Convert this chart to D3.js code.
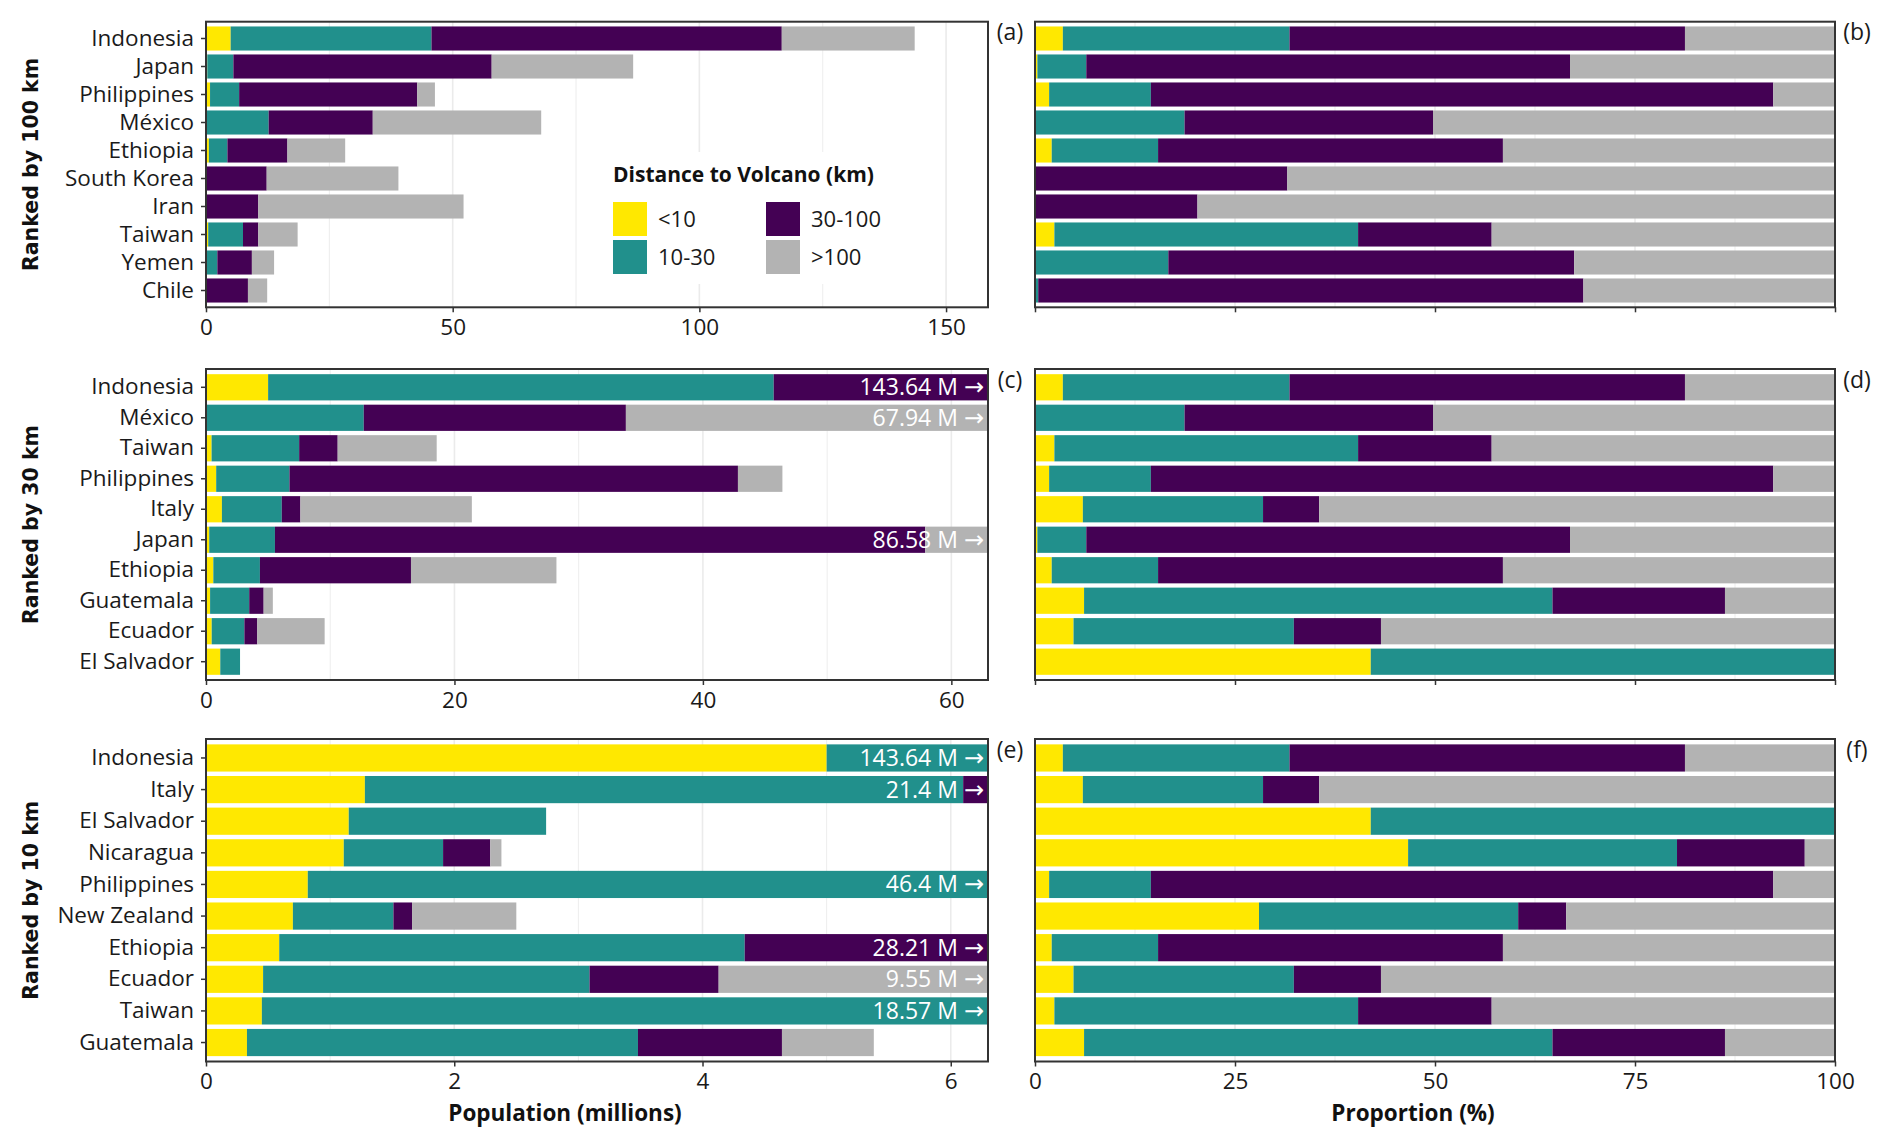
<!DOCTYPE html>
<meta charset="utf-8">
<style>
body { margin: 0; background: #fff; }
svg { display: block; }
.axis text { font-family: "Open Sans", sans-serif; font-size: 22.5px; fill: #1a1a1a; }
.axis line { stroke: #333; stroke-width: 1.5; }
.grid line { stroke: #ebebeb; }
</style>
<svg width="1892" height="1145" id="chart"></svg>
<script src="https://d3js.org/d3.v7.min.js"></script>
<script>
// population (millions) living within each distance band of a volcano
var countries = ["Indonesia", "Japan", "Philippines", "México", "Ethiopia", "South Korea", "Iran", "Taiwan",
                 "Yemen", "Chile", "Italy", "Guatemala", "Ecuador", "El Salvador", "Nicaragua", "New Zealand"];
var lt10    = [5.00,  0.26,  0.82,  0,     0.59,  0,    0,    0.45, 0,   0,    1.28, 0.33, 0.46, 1.15, 1.11, 0.70];
var km10_30 = [40.70, 5.29,  5.90,  12.70, 3.75,  0,    0,    7.05, 2.3, 0.05, 4.82, 3.15, 2.63, 1.59, 0.80, 0.81];
var km30_100= [71.00, 52.35, 36.10, 21.10, 12.16, 12.3, 10.6, 3.10, 7.0, 8.45, 1.50, 1.16, 1.04, 0,    0.38, 0.15];
var gt100   = [26.94, 28.68, 3.58,  34.14, 11.71, 26.7, 41.6, 7.97, 4.5, 3.90, 13.8, 0.74, 5.42, 0,    0.09, 0.84];

var bandNames = ["<10", "10-30", "30-100", ">100"];
var bandColors = ["#ffe800", "#21908c", "#440154", "#b3b3b3"];

var rank100 = ["Indonesia", "Japan", "Philippines", "México", "Ethiopia", "South Korea", "Iran", "Taiwan", "Yemen", "Chile"];
var rank30  = ["Indonesia", "México", "Taiwan", "Philippines", "Italy", "Japan", "Ethiopia", "Guatemala", "Ecuador", "El Salvador"];
var rank10  = ["Indonesia", "Italy", "El Salvador", "Nicaragua", "Philippines", "New Zealand", "Ethiopia", "Ecuador", "Taiwan", "Guatemala"];

var popTicks100 = [0, 50, 100, 150];
var popTicks30  = [0, 20, 40, 60];
var popTicks10  = [0, 2, 4, 6];
var pctTicks    = [0, 25, 50, 75, 100];

var byName = {};
countries.forEach(function(c, i) {
  var vals = [lt10[i], km10_30[i], km30_100[i], gt100[i]];
  var total = d3.sum(vals), acc = 0;
  byName[c] = {
    name: c,
    total: total,
    segs: vals.map(function(v, k) { var s = {band: k, x0: acc, x1: acc + v}; acc += v; return s; })
  };
});

var svg = d3.select("#chart");
svg.append("rect").attr("width", 1892).attr("height", 1145).attr("fill", "#fff");

var leftX = [206, 988], rightX = [1035, 1835];

var rows = [
  {order: rank100, max: 158.5, ticks: popTicks100, title: "Ranked by 100 km", top: 21.7, bottom: 307.3, tags: ["(a)", "(b)"]},
  {order: rank30,  max: 62.95, ticks: popTicks30,  title: "Ranked by 30 km",  top: 369,  bottom: 680,   tags: ["(c)", "(d)"]},
  {order: rank10,  max: 6.3,   ticks: popTicks10,  title: "Ranked by 10 km",  top: 739,  bottom: 1061.5, tags: ["(e)", "(f)"]}
];

function minors(ticks, max) {
  var out = [], step = ticks[1] - ticks[0];
  ticks.forEach(function(t) { if (t + step / 2 < max) out.push(t + step / 2); });
  return out;
}

rows.forEach(function(r, ri) {
  var y = d3.scaleBand()
    .domain(r.order)
    .range([r.top, r.bottom])
    .paddingInner(0.14)
    .paddingOuter(0.17);

  var panels = [
    {x: d3.scaleLinear().domain([0, r.max]).range(leftX), ticks: r.ticks, pct: false},
    {x: d3.scaleLinear().domain([0, 100]).range(rightX), ticks: pctTicks, pct: true}
  ];

  panels.forEach(function(p, pi) {
    var x = p.x;
    var id = "clip" + ri + pi;
    svg.append("clipPath").attr("id", id)
      .append("rect")
        .attr("x", x.range()[0]).attr("y", r.top)
        .attr("width", x.range()[1] - x.range()[0]).attr("height", r.bottom - r.top);

    var grid = svg.append("g").attr("class", "grid");
    grid.selectAll("line.major")
      .data(p.ticks)
      .enter().append("line")
        .attr("x1", d => x(d)).attr("x2", d => x(d))
        .attr("y1", r.top).attr("y2", r.bottom)
        .attr("stroke-width", 1.6);
    grid.selectAll("line.minor")
      .data(minors(p.ticks, x.domain()[1]))
      .enter().append("line")
        .attr("x1", d => x(d)).attr("x2", d => x(d))
        .attr("y1", r.top).attr("y2", r.bottom)
        .attr("stroke-width", 0.9);

    var g = svg.append("g").attr("clip-path", "url(#" + id + ")");
    var country = g.selectAll("g.country")
      .data(r.order.map(n => byName[n]))
      .enter().append("g")
        .attr("transform", d => "translate(0," + y(d.name) + ")");

    country.selectAll("rect")
      .data(d => d.segs.map(s => p.pct ? {band: s.band, x0: s.x0 / d.total * 100, x1: s.x1 / d.total * 100} : s)
                        .filter(s => s.x1 > s.x0))
      .enter().append("rect")
        .attr("x", s => x(s.x0))
        .attr("width", s => x(s.x1) - x(s.x0))
        .attr("height", y.bandwidth())
        .attr("fill", s => bandColors[s.band]);

    if (!p.pct) {
      var lab = g.selectAll("text.total")
        .data(r.order.map(n => byName[n]).filter(d => d.total > r.max))
        .enter().append("text")
          .attr("x", x.range()[1] - 4)
          .attr("y", d => y(d.name) + y.bandwidth() / 2)
          .attr("dy", "0.35em")
          .attr("text-anchor", "end")
          .attr("fill", "#fff")
          .style("font-family", "'Open Sans', sans-serif")
          .style("font-size", "23px");
      lab.append("tspan").text(d => (+d.total.toFixed(2)) + " M ");
      lab.append("tspan")
        .style("font-family", "'DejaVu Sans', sans-serif")
        .style("font-size", "24px")
        .text("\u2192");
    }

    // x axis
    var xAxis = svg.append("g")
      .attr("class", "axis")
      .attr("transform", "translate(0," + r.bottom + ")")
      .call(d3.axisBottom(x).tickValues(p.ticks).tickSize(5).tickPadding(7)
        .tickFormat((p.pct && ri < 2) ? () => "" : d3.format("d")));
    xAxis.select(".domain").remove();

    if (!p.pct) {
      var yAxis = svg.append("g")
        .attr("class", "axis")
        .attr("transform", "translate(" + x.range()[0] + ",0)")
        .call(d3.axisLeft(y).tickSize(5).tickPadding(7));
      yAxis.select(".domain").remove();
    }

    svg.append("rect")
      .attr("x", x.range()[0]).attr("y", r.top)
      .attr("width", x.range()[1] - x.range()[0]).attr("height", r.bottom - r.top)
      .attr("fill", "none")
      .attr("stroke", "#333")
      .attr("stroke-width", 2);

    svg.append("text")
      .attr("x", pi === 0 ? 1010 : 1857)
      .attr("y", r.top + 18.5)
      .attr("text-anchor", "middle")
      .attr("fill", "#1a1a1a")
      .style("font-family", "'Open Sans', sans-serif")
      .style("font-size", "23px")
      .text(r.tags[pi]);
  });

  svg.append("text")
    .attr("transform", "translate(38," + ((r.top + r.bottom) / 2) + ") rotate(-90)")
    .attr("text-anchor", "middle")
    .attr("fill", "#111")
    .style("font-family", "'DejaVu Sans', sans-serif")
    .style("font-weight", "bold")
    .style("font-size", "20.5px")
    .text(r.title);
});

// axis titles
svg.append("text")
  .attr("x", 565).attr("y", 1121)
  .attr("text-anchor", "middle")
  .attr("fill", "#111")
  .style("font-family", "'Open Sans', sans-serif")
  .style("font-weight", "bold")
  .style("font-size", "22.5px")
  .text("Population (millions)");

svg.append("text")
  .attr("x", 1413).attr("y", 1121)
  .attr("text-anchor", "middle")
  .attr("fill", "#111")
  .style("font-family", "'Open Sans', sans-serif")
  .style("font-weight", "bold")
  .style("font-size", "22.5px")
  .text("Proportion (%)");

// legend
var legend = svg.append("g").attr("transform", "translate(598,152)");
legend.append("rect")
  .attr("width", 335).attr("height", 132)
  .attr("fill", "#fff");
legend.append("text")
  .attr("x", 15).attr("y", 30)
  .attr("fill", "#111")
  .style("font-family", "'Open Sans', sans-serif")
  .style("font-weight", "bold")
  .style("font-size", "21px")
  .text("Distance to Volcano (km)");

var item = legend.selectAll("g.item")
  .data(bandNames)
  .enter().append("g")
    .attr("transform", (d, i) => "translate(" + (15 + Math.floor(i / 2) * 153) + "," + (50 + (i % 2) * 38) + ")");
item.append("rect")
  .attr("width", 34).attr("height", 34)
  .attr("fill", (d, i) => bandColors[i]);
item.append("text")
  .attr("x", 45).attr("y", 17).attr("dy", "0.35em")
  .attr("fill", "#1a1a1a")
  .style("font-family", "'Open Sans', sans-serif")
  .style("font-size", "22px")
  .text(d => d);
</script>
